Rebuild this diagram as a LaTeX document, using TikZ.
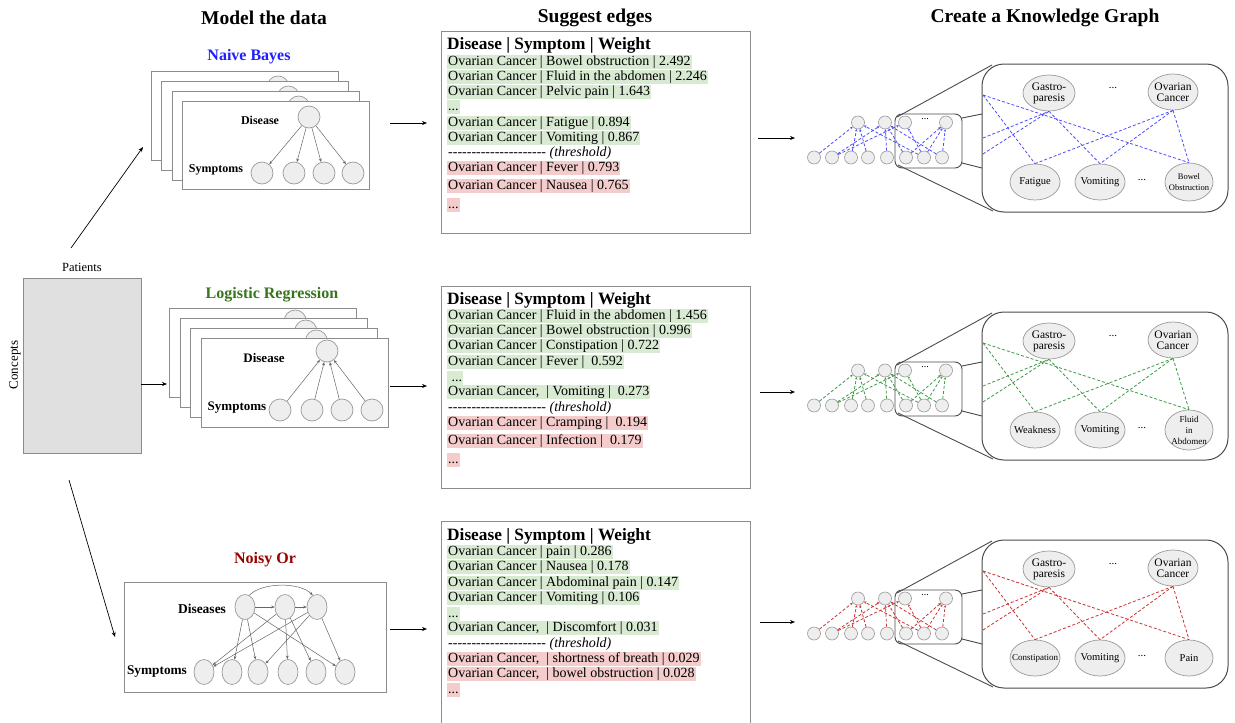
\documentclass[tikz,border=0pt]{standalone}
\usepackage{fontspec}
\setmainfont{Liberation Serif}
\usetikzlibrary{arrows.meta,shapes.geometric}
\definecolor{okg}{HTML}{D9EAD3}
\definecolor{badr}{HTML}{F4CCCC}
\definecolor{nbblue}{HTML}{1F1FFF}
\definecolor{lrgreen}{HTML}{38761D}
\definecolor{nored}{HTML}{990000}
\definecolor{eblue}{HTML}{4D4DFF}
\definecolor{egreen}{HTML}{3D9A45}
\definecolor{ered}{HTML}{CC3333}
\definecolor{nodefill}{HTML}{EEEEEE}
\definecolor{nodeline}{HTML}{999999}
\newcommand\fsz[2]{\fontsize{#1}{#2}\selectfont}
\newcommand\zb[1]{\makebox[0pt]{#1}}
\newcommand\thrdash{-{}-{}-{}-{}-{}-{}-{}-{}-{}-{}-{}-{}-{}-{}-{}-{}-{}-{}-{}-{}-{}}
\newcommand\kgpanel[7]{%
\begin{scope}[shift={(0,#1)}]
\draw[kgbox] (982,0) rectangle (1228,148);
\node[kgell, minimum width=52pt] (#3g) at (1049,29) {\fsz{11.5}{12.5}\zb{Gastro-}\\\fsz{11.5}{12.5}\zb{paresis}};
\node[kgdots] (#3d1) at (1113,24) {...};
\node[kgell] (#3o) at (1173,28) {\fsz{11.5}{12.5}\zb{Ovarian}\\\fsz{11.5}{12.5}\zb{Cancer}};
\node[kgell, #5] (#3f) at (1035,118) {#4};
\node[kgell] (#3v) at (1100,118) {\zb{Vomiting}};
\node[kgdots] (#3d2) at (1142,116) {...};
\node[kgell, #7] (#3r) at (1189,118) {#6};
\coordinate (#3L1) at (983,31);
\coordinate (#3L2) at (983,74);
\coordinate (#3L3) at (983,90);
\draw[kgedge=#2] (#3L1) -- (#3f.north);
\draw[kgedge=#2] (#3L1) -- (#3r.north);
\draw[kgedge=#2] (#3L2) -- (#3g.south);
\draw[kgedge=#2] (#3L3) -- (#3g.south);
\draw[kgedge=#2] (#3g.south) -- (#3v.north);
\draw[kgedge=#2] (#3o.south) -- (#3f.north);
\draw[kgedge=#2] (#3o.south) -- (#3v.north);
\draw[kgedge=#2] (#3o.south) -- (#3r.north);
\draw[smallrect] (895,50) rectangle (962,104);
\foreach \x [count=\i] in {858,885,905,946} \node[snode] (#3t\i) at (\x,58.5) {};
\foreach \x [count=\i] in {814,832,851,868,887,906,924,942} \node[snode] (#3b\i) at (\x,93.5) {};
\node[font=\fsz{10}{10}] (#3d3) at (925,55) {...};
\foreach \a/\b in {1/1,1/3,1/4,1/7,2/2,2/5,2/6,2/8,3/2,3/7,4/6,4/7,4/8}
  \draw[kgedge=#2, -{Stealth[length=2.5pt,width=2.5pt]}] (#3b\b) -- (#3t\a);
\coordinate (#3z1a) at (897,53); \coordinate (#3z1b) at (992,1);
\coordinate (#3z2a) at (962,54); \coordinate (#3z2b) at (982,50);
\coordinate (#3z3a) at (962,99); \coordinate (#3z3b) at (982,104);
\coordinate (#3z4a) at (898,101); \coordinate (#3z4b) at (993,147);
\draw[zoomline] (#3z1a) -- (#3z1b);
\draw[zoomline] (#3z2a) -- (#3z2b);
\draw[zoomline] (#3z3a) -- (#3z3b);
\draw[zoomline] (#3z4a) -- (#3z4b);
\end{scope}}
\begin{document}
\begin{tikzpicture}[x=1pt,y=-1pt,
  title/.style={font=\bfseries\fsz{19.5}{19.5}},
  mlabel/.style={font=\bfseries\fsz{16}{16}},
  slabel/.style={font=\bfseries\fsz{12}{12}},
  gnode/.style={circle, draw=nodeline, fill=nodefill, minimum size=22pt, inner sep=0pt, line width=0.7pt},
  nell/.style={ellipse, draw=nodeline, fill=nodefill, minimum width=20pt, minimum height=25pt, inner sep=0pt, line width=0.7pt},
  stackbox/.style={draw=black!45, fill=white, line width=0.9pt, inner sep=0pt, anchor=north west},
  arr/.style={-{Stealth[length=5pt,width=4pt]}, line width=0.7pt, black},
  smallarr/.style={-{Stealth[length=3.5pt,width=2.8pt]}, line width=0.5pt, draw=black!60},
  tbox/.style={draw=black!45, line width=1pt},
  row/.style={anchor=west, inner xsep=1pt, inner ysep=0.5pt, text height=10pt, text depth=3.5pt, font=\fsz{14}{14}},
  okrow/.style={row, fill=okg},
  badrow/.style={row, fill=badr},
  hdr/.style={anchor=west, inner sep=0pt, font=\bfseries\fsz{17.3}{17.3}},
  kgbox/.style={draw=black!70, line width=1pt, rounded corners=22pt},
  smallrect/.style={draw=black!70, line width=0.9pt, rounded corners=7pt},
  zoomline/.style={draw=black!70, line width=0.9pt},
  kgell/.style={ellipse, draw=nodeline, fill=nodefill, minimum width=50pt, minimum height=36pt, inner sep=0pt, line width=0.7pt, align=center, font=\fsz{10.5}{11}},
  kgdots/.style={font=\fsz{11}{11}},
  kgedge/.style={draw=#1, dash pattern=on 3pt off 2pt, line width=0.8pt},
  snode/.style={circle, draw=nodeline, fill=nodefill, minimum size=13pt, inner sep=0pt, line width=0.6pt}
]
\useasboundingbox (0,0) rectangle (1235,723);
\fill[white] (0,0) rectangle (1235,723);

% titles
\node[title] (tt1) at (264,18) {Model the data};
\node[title] (tt2) at (595,18) {Suggest edges};
\node[title] (tt3) at (1045,18) {Create a Knowledge Graph};

% concepts x patients
\node[draw=black!45, fill=black!12, line width=0.9pt, minimum width=118pt, minimum height=175pt, inner sep=0pt] (pat) at (82,365.5) {};
\node[font=\fsz{12.5}{12.5}] (patl) at (82,267) {Patients};
\node[font=\fsz{13}{13}, rotate=90] (conl) at (15,365) {Concepts};

% Naive Bayes
\node[mlabel, text=nbblue] (nbl) at (249,57) {Naive Bayes};
\foreach \k in {0,1,2} {
  \node[stackbox, minimum width=187pt, minimum height=89pt] (nbb\k) at ({151+10.3*\k},{71+10*\k}) {};
  \node[gnode] (nbc\k) at ({278.1+10.3*\k},{87+10*\k}) {};
}
\node[stackbox, minimum width=187pt, minimum height=88pt] (nbf) at (182,101) {};
\node[gnode] (nbD) at (309,117) {};
\node[slabel] (nbdl) at (260,120) {Disease};
\node[slabel] (nbsl) at (216,170) {Symptoms};
\foreach \x [count=\i] in {262,294,324,353} \node[gnode] (nbS\i) at (\x,173) {};
\foreach \i in {1,...,4} \draw[smallarr] (nbD) -- (nbS\i);

% Logistic regression
\node[mlabel, text=lrgreen] (lrl) at (272,295) {Logistic Regression};
\foreach \k in {0,1,2} {
  \node[stackbox, minimum width=187pt, minimum height=89pt] (lrb\k) at ({169+10.6*\k},{308+10*\k}) {};
  \node[gnode] (lrc\k) at ({295.2+10.6*\k},{321+10*\k}) {};
}
\node[stackbox, minimum width=187pt, minimum height=89pt] (lrf) at (201,338) {};
\node[gnode] (lrD) at (327,351) {};
\node[slabel, font=\bfseries\fsz{13}{13}] (lrdl) at (264,358) {Disease};
\node[slabel, font=\bfseries\fsz{13}{13}] (lrsl) at (237,408) {Symptoms};
\foreach \x [count=\i] in {280,312,342,372} \node[gnode] (lrS\i) at (\x,410) {};
\foreach \i in {1,...,4} \draw[smallarr] (lrS\i) -- (lrD);

% Noisy Or
\node[mlabel, text=nored] (nol) at (265,560) {Noisy Or};
\node[stackbox, minimum width=262pt, minimum height=110pt] (nob) at (124,582) {};
\node[slabel, font=\bfseries\fsz{13.5}{13.5}] (nodl) at (202,609) {Diseases};
\node[slabel, font=\bfseries\fsz{13.3}{13.3}] (nosl) at (157,672) {Symptoms};
\foreach \x [count=\i] in {245,285,317} \node[nell] (noD\i) at (\x,607) {};
\foreach \x [count=\i] in {204,232,258,288,316,345} \node[nell] (noS\i) at (\x,672) {};
\draw[smallarr] (noD1) -- (noD2);
\draw[smallarr] (noD2) -- (noD3);
\draw[smallarr] (noD1.70) .. controls (262,582) and (300,582) .. (noD3.110);
\foreach \a/\b in {1/2,1/3,1/6,2/1,2/4,2/5,3/1,3/3,3/6} \draw[smallarr] (noD\a) -- (noS\b);

% arrows from data to models
\coordinate (c1s) at (71,248); \coordinate (c1e) at (143,147);
\coordinate (c2s) at (141,384); \coordinate (c2e) at (167,384);
\coordinate (c3s) at (69,480); \coordinate (c3e) at (115,637);
\draw[arr] (c1s) -- (c1e);
\draw[arr] (c2s) -- (c2e);
\draw[arr] (c3s) -- (c3e);

% arrows models -> tables
\coordinate (m1s) at (390,123); \coordinate (m1e) at (427,123);
\coordinate (m2s) at (390,386); \coordinate (m2e) at (427,386);
\coordinate (m3s) at (390,629); \coordinate (m3e) at (427,629);
\draw[arr] (m1s) -- (m1e);
\draw[arr] (m2s) -- (m2e);
\draw[arr] (m3s) -- (m3e);

% arrows tables -> KG
\coordinate (k1s) at (758,138); \coordinate (k1e) at (795,138);
\coordinate (k2s) at (760,392); \coordinate (k2e) at (795,392);
\coordinate (k3s) at (760,622); \coordinate (k3e) at (795,622);
\draw[arr] (k1s) -- (k1e);
\draw[arr] (k2s) -- (k2e);
\draw[arr] (k3s) -- (k3e);

% table 1
\node[tbox, anchor=north west, minimum width=309pt, minimum height=202pt, inner sep=0pt] (tab1) at (441,31) {};
\node[hdr] (t1h) at (447,45) {Disease | Symptom | Weight};
\node[okrow] (t1r1) at (447,62) {Ovarian Cancer | Bowel obstruction | 2.492};
\node[okrow] (t1r2) at (447,77) {Ovarian Cancer | Fluid in the abdomen | 2.246};
\node[okrow] (t1r3) at (447,92) {Ovarian Cancer | Pelvic pain | 1.643};
\node[okrow] (t1r4) at (447,107) {...};
\node[okrow] (t1r5) at (447,123) {Ovarian Cancer | Fatigue | 0.894};
\node[okrow] (t1r6) at (447,138) {Ovarian Cancer | Vomiting | 0.867};
\node[row] (t1r7) at (447,153) {\thrdash\ \textit{(threshold)}};
\node[badrow] (t1r8) at (447,168) {Ovarian Cancer | Fever | 0.793};
\node[badrow] (t1r9) at (447,186) {Ovarian Cancer | Nausea | 0.765};
\node[badrow] (t1r10) at (447,205) {...};

% table 2
\node[tbox, anchor=north west, minimum width=309pt, minimum height=202pt, inner sep=0pt] (tab2) at (441,286) {};
\node[hdr] (t2h) at (447,300) {Disease | Symptom | Weight};
\node[okrow] (t2r1) at (447,316) {Ovarian Cancer | Fluid in the abdomen | 1.456};
\node[okrow] (t2r2) at (447,331) {Ovarian Cancer | Bowel obstruction | 0.996};
\node[okrow] (t2r3) at (447,346) {Ovarian Cancer | Constipation | 0.722};
\node[okrow] (t2r4) at (447,362) {Ovarian Cancer | Fever |\ \ 0.592};
\node[okrow] (t2r5) at (447,378) {\ ...};
\node[okrow] (t2r6) at (447,392) {Ovarian Cancer,\ \ | Vomiting |\ \ 0.273};
\node[row] (t2r7) at (447,408) {\thrdash\ \textit{(threshold)}};
\node[badrow] (t2r8) at (447,423) {Ovarian Cancer | Cramping |\ \ 0.194};
\node[badrow] (t2r9) at (447,441) {Ovarian Cancer | Infection |\ \ 0.179};
\node[badrow] (t2r10) at (447,460) {...};

% table 3
\draw[tbox] (441,725) -- (441,521) -- (750,521) -- (750,725);
\node[hdr] (t3h) at (447,536) {Disease | Symptom | Weight};
\node[okrow] (t3r1) at (447,552) {Ovarian Cancer | pain | 0.286};
\node[okrow] (t3r2) at (447,567) {Ovarian Cancer | Nausea | 0.178};
\node[okrow] (t3r3) at (447,583) {Ovarian Cancer | Abdominal pain | 0.147};
\node[okrow] (t3r4) at (447,598) {Ovarian Cancer | Vomiting | 0.106};
\node[okrow] (t3r5) at (447,614) {...};
\node[okrow] (t3r6) at (447,628) {Ovarian Cancer,\ \ | Discomfort | 0.031};
\node[row] (t3r7) at (447,644) {\thrdash\ \textit{(threshold)}};
\node[badrow] (t3r8) at (447,659) {Ovarian Cancer,\ \ | shortness of breath | 0.029};
\node[badrow] (t3r9) at (447,674) {Ovarian Cancer,\ \ | bowel obstruction | 0.028};
\node[badrow] (t3r10) at (447,690) {...};

% knowledge graphs
\kgpanel{64}{eblue}{ka}{\zb{Fatigue}}{}{\fsz{8.5}{9.5}\zb{Bowel}\\\fsz{8.5}{9.5}\zb{Obstruction}}{minimum height=38pt, minimum width=48pt}
\kgpanel{312}{egreen}{kb}{\zb{Weakness}}{}{\fsz{9}{9.5}\zb{Fluid}\\\fsz{9}{9.5}\zb{in}\\\fsz{9}{9.5}\zb{Abdomen}}{minimum height=40pt, minimum width=48pt}
\kgpanel{540}{ered}{kc}{\fsz{9}{9}\zb{Constipation}}{}{\zb{Pain}}{minimum width=48pt}
\end{tikzpicture}
\end{document}
